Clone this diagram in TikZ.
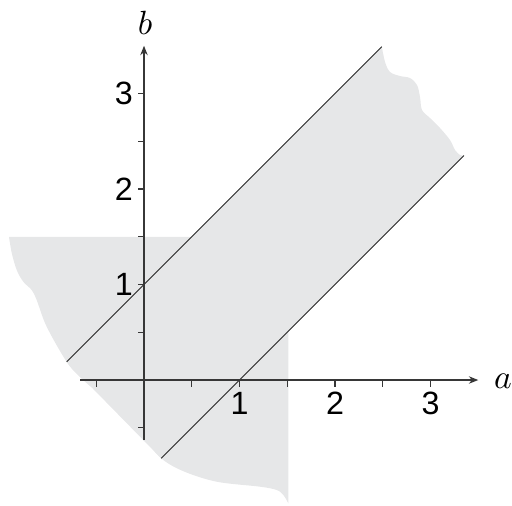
\documentclass[tikz,border=0pt]{standalone}
\usepackage{fontspec}
\setsansfont{Liberation Sans}
\usetikzlibrary{arrows.meta}

\definecolor{regiongray}{RGB}{230,231,232}
\definecolor{axisgray}{RGB}{55,55,55}

\newcommand*{\xmin}{-0.67}
\newcommand*{\xmax}{3.5}
\newcommand*{\ymin}{-0.63}
\newcommand*{\ymax}{3.5}

\begin{document}
\begin{tikzpicture}
[
	axis/.style={axisgray,line width=0.4pt},
	tick/.style={axisgray,line width=0.4pt},
	ticklabel/.style={inner sep=0pt,font=\sffamily\fontsize{9.6}{11}\selectfont},
	bound/.style={black!85,line width=0.3pt},
	region/.style={fill=regiongray},
	>={Stealth[length=2.8pt,width=2.2pt]}
]
	\useasboundingbox (-1.508,-1.309) rectangle (3.853,3.979);

	% line ends
	\coordinate (ustart) at (-0.81,0.19);
	\coordinate (ustop) at (2.49,3.49);
	\coordinate (lstart) at (0.18,-0.82);
	\coordinate (lstop) at (3.35,2.35);

	% shaded quadrant
	\fill[region] (1.51,1.5) -- plot[smooth,tension=0.55] coordinates {
		(-1.414,1.5) (-1.385,1.33) (-1.333,1.152) (-1.264,1.029) (-1.176,0.942)
		(-1.124,0.838) (-1.019,0.558) (-0.81,0.19) (-0.67,0.03) (-0.495,-0.12)
		(-0.286,-0.28) (-0.164,-0.366) (-0.094,-0.471) (-0.007,-0.6) (0.18,-0.82)
		(0.412,-0.955) (0.761,-1.065) (1.215,-1.117) (1.39,-1.152) (1.459,-1.204)
		(1.511,-1.291)
	} -- cycle;

	% shaded band
	\fill[region] (ustart) -- (ustop) -- plot[smooth,tension=0.55] coordinates {
		(2.49,3.49) (2.524,3.33) (2.576,3.225) (2.681,3.183) (2.785,3.162)
		(2.859,3.089) (2.89,2.963) (2.911,2.827) (2.995,2.743) (3.099,2.639)
		(3.204,2.513) (3.257,2.408) (3.309,2.356) (3.35,2.35)
	} -- (lstart) -- cycle;

	% band edges
	\draw[bound] (ustart) -- (ustop);
	\draw[bound] (lstart) -- (lstop);

	% ticks
	\foreach \x in {-0.5,0.5,1,...,3} {
		\draw[tick] (\x,0) -- (\x,-0.068);
	}
	\foreach \y in {-0.5,0.5,1,...,3} {
		\draw[tick] (0,\y) -- (-0.068,\y);
	}

	% label ticks
	\foreach \x in {1,2,3} {
		\node[ticklabel] (xl\x) at (\x,-0.245) {\x};
	}
	\foreach \y in {1,2,3} {
		\node[ticklabel,anchor=east] (yl\y) at (-0.11,\y) {\y};
	}

	% axes
	\draw[axis,->] (\xmin,0) -- (\xmax,0);
	\draw[axis,->] (0,\ymin) -- (0,\ymax);
	\node (alabel) at (3.76,-0.01) {$a$};
	\node (blabel) at (0.01,3.745) {$b$};

\end{tikzpicture}
\end{document}
